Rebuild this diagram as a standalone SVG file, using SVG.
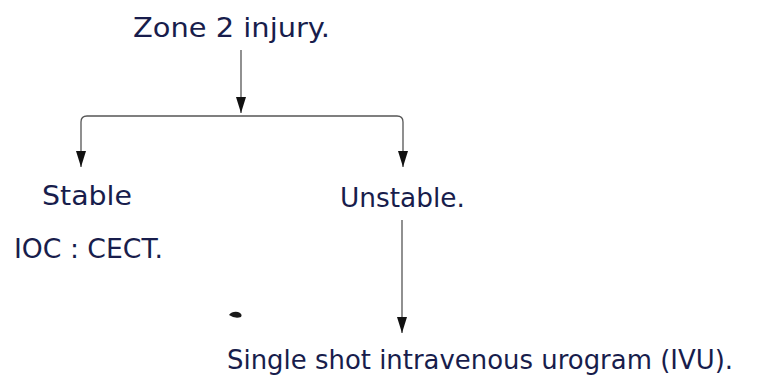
<svg xmlns="http://www.w3.org/2000/svg" width="776" height="382" viewBox="0 0 776 382">
  <style>
    .lbl { font-family: "DejaVu Sans", "Liberation Sans", sans-serif; font-size: 27px; fill: #181d4c; }
    .conn { fill: none; stroke: #555; stroke-width: 1.3; }
  </style>
  <defs>
    <marker id="arr" markerUnits="userSpaceOnUse" markerWidth="18" markerHeight="12" viewBox="0 0 18 12" refX="17" refY="6" orient="auto">
      <path d="M1,1 L17,6 L1,11 Z" fill="#111"/>
    </marker>
  </defs>
  <rect width="776" height="382" fill="#fff"/>
  <g id="connectors">
    <path class="conn" d="M241,50 V113" marker-end="url(#arr)"/>
    <path class="conn" d="M241,116 H87 Q81,116 81,122 V167" marker-end="url(#arr)"/>
    <path class="conn" d="M241,116 H397 Q403,116 403,122 V167" marker-end="url(#arr)"/>
    <path class="conn" d="M402,220 V333" marker-end="url(#arr)"/>
  </g>
  <g id="zone2">
    <text class="lbl" x="133" y="37" textLength="197" lengthAdjust="spacingAndGlyphs">Zone 2 injury.</text>
  </g>
  <g id="stable">
    <text class="lbl" x="42" y="205" textLength="90" lengthAdjust="spacingAndGlyphs">Stable</text>
    <text class="lbl" x="14" y="258" textLength="149" lengthAdjust="spacingAndGlyphs">IOC : CECT.</text>
  </g>
  <g id="unstable">
    <text class="lbl" x="340" y="207" textLength="125" lengthAdjust="spacingAndGlyphs">Unstable.</text>
  </g>
  <g id="ivu">
    <text class="lbl" x="227" y="369" textLength="506" lengthAdjust="spacingAndGlyphs">Single shot intravenous urogram (IVU).</text>
  </g>
  <path d="M229,315 Q232,311 238,312 Q243,314 241,317 Q235,319 229,315 Z" fill="#1a1a1a"/>
</svg>
